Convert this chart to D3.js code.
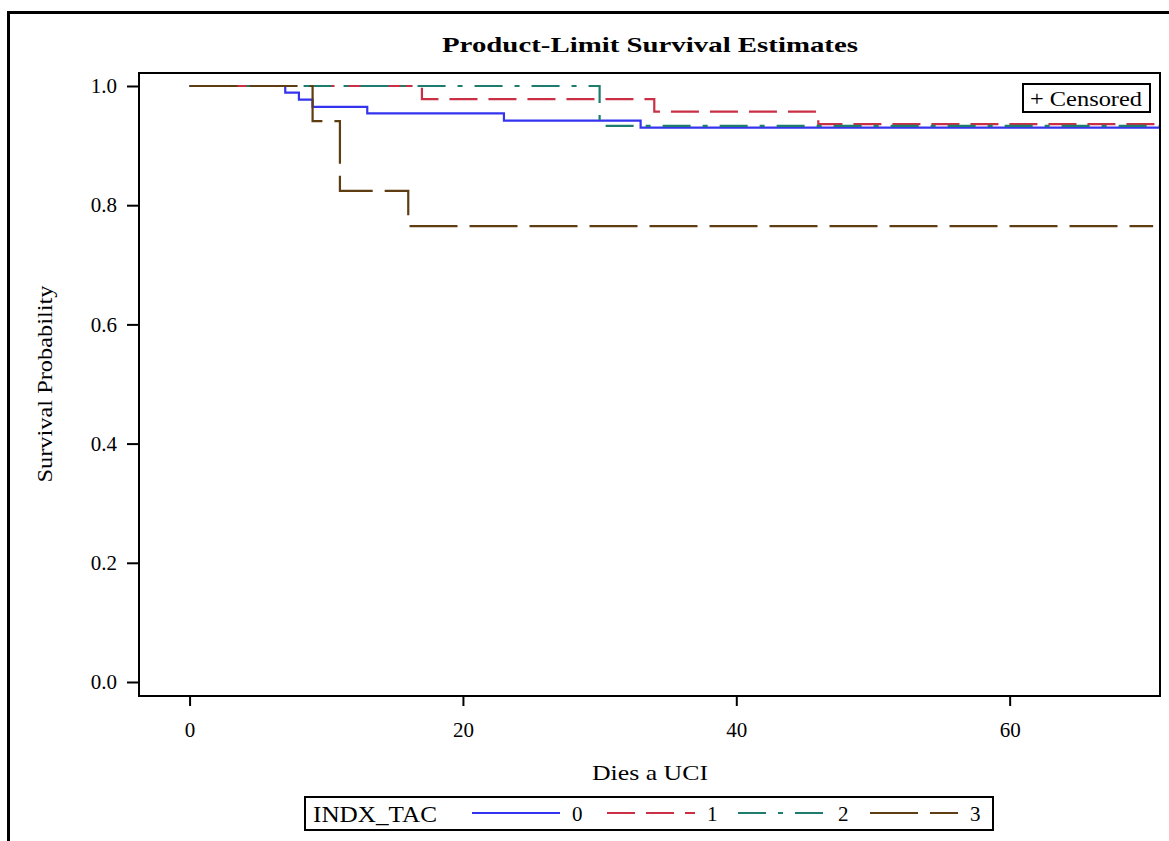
<!DOCTYPE html>
<html>
<head>
<meta charset="utf-8">
<script src="https://cdn.jsdelivr.net/npm/d3@7"></script>
<style>
  body { margin: 0; background: #fff; }
  svg { display: block; font-family: "Liberation Serif", "DejaVu Serif", serif; }
  .axis text { font-size: 21px; fill: #000; font-family: "Liberation Serif", serif; }
  .axis line { stroke: #000; stroke-width: 2; }
</style>
</head>
<body>
<svg id="chart"></svg>
<script>
// Data (time in days, survival probability)
const groups = ['0', '1', '2', '3'];
const times0 = [0, 7, 8, 9, 13, 23, 33, 71];
const surv0 = [1.0, 0.989, 0.977, 0.965, 0.954, 0.942, 0.930, 0.930];
const times1 = [0, 17, 34, 46, 71];
const surv1 = [1.0, 0.978, 0.957, 0.936, 0.936];
const times2 = [0, 30, 71];
const surv2 = [1.0, 0.933, 0.933];
const times3 = [0, 9, 11, 16, 70.5];
const surv3 = [1.0, 0.941, 0.824, 0.765, 0.765];
const xTicks = [0, 20, 40, 60];
const yTicks = [0, 0.2, 0.4, 0.6, 0.8, 1.0];

// styles per group
const colors = ['#3434f0', '#c92f45', '#1e7c6e', '#5e3d12'];
const dashes = [null, '28,11', '28,12,5,12', '48,12'];

const W = 1169, H = 841;
const svg = d3.select('#chart').attr('width', W).attr('height', H);

// scales - domain padded like the original frame
const xScale = d3.scaleLinear().domain([-3.7, 71.0]).range([139, 1160]);
const yScale = d3.scaleLinear().domain([-0.0235, 1.0218]).range([696, 73]);

// outer frame (top + left only visible)
svg.append('path')
  .attr('d', `M8.5,${H} L8.5,12.5 L${W},12.5`)
  .attr('fill', 'none').attr('stroke', '#000').attr('stroke-width', 3);

// title
svg.append('text')
  .attr('x', 650).attr('y', 52)
  .attr('text-anchor', 'middle')
  .attr('font-size', 22).attr('font-weight', 'bold')
  .attr('textLength', 416).attr('lengthAdjust', 'spacingAndGlyphs')
  .text('Product-Limit Survival Estimates');

// curves
const series = [
  { t: times0, s: surv0 },
  { t: times1, s: surv1 },
  { t: times2, s: surv2 },
  { t: times3, s: surv3 }
];

const line = d3.line()
  .x(d => xScale(d[0]))
  .y(d => yScale(d[1]))
  .curve(d3.curveStepAfter);

const plot = svg.append('g');
series.forEach((sr, i) => {
  const pts = sr.t.map((t, j) => [t, sr.s[j]]);
  plot.append('path')
    .attr('d', line(pts))
    .attr('fill', 'none')
    .attr('stroke', colors[i])
    .attr('stroke-width', 2.2)
    .attr('stroke-dasharray', dashes[i]);
});

// axes
const yAxis = d3.axisLeft(yScale).tickValues(yTicks).tickFormat(d3.format('.1f'))
  .tickSize(12).tickPadding(10);
const xAxis = d3.axisBottom(xScale).tickValues(xTicks).tickFormat(d3.format('d'))
  .tickSize(10).tickPadding(16);

svg.append('g').attr('class', 'axis')
  .attr('transform', 'translate(139,0)')
  .call(yAxis)
  .call(g => g.select('.domain').remove())
  .attr('font-family', null).attr('font-size', null);

svg.append('g').attr('class', 'axis')
  .attr('transform', 'translate(0,696)')
  .call(xAxis)
  .call(g => g.select('.domain').remove())
  .attr('font-family', null).attr('font-size', null);

// plot frame
svg.append('rect')
  .attr('x', xScale.range()[0]).attr('y', yScale.range()[1])
  .attr('width', xScale.range()[1] - xScale.range()[0])
  .attr('height', yScale.range()[0] - yScale.range()[1])
  .attr('fill', 'none').attr('stroke', '#000').attr('stroke-width', 2);

// axis labels
svg.append('text')
  .attr('transform', 'translate(52,384) rotate(-90)')
  .attr('text-anchor', 'middle')
  .attr('font-size', 22)
  .attr('textLength', 197).attr('lengthAdjust', 'spacingAndGlyphs')
  .text('Survival Probability');

svg.append('text')
  .attr('x', 650).attr('y', 780)
  .attr('text-anchor', 'middle')
  .attr('font-size', 22)
  .attr('textLength', 116).attr('lengthAdjust', 'spacingAndGlyphs')
  .text('Dies a UCI');

// censored inset legend
svg.append('rect')
  .attr('x', 1023).attr('y', 84).attr('width', 127).attr('height', 28)
  .attr('fill', '#fff').attr('stroke', '#000').attr('stroke-width', 2);
svg.append('text')
  .attr('x', 1030).attr('y', 106)
  .attr('font-size', 21)
  .attr('textLength', 112).attr('lengthAdjust', 'spacingAndGlyphs')
  .text('+ Censored');

// bottom legend
const legend = svg.append('g');
legend.append('rect')
  .attr('x', 305).attr('y', 797).attr('width', 688).attr('height', 33)
  .attr('fill', '#fff').attr('stroke', '#000').attr('stroke-width', 2);
legend.append('text')
  .attr('x', 313).attr('y', 822)
  .attr('font-size', 23)
  .attr('textLength', 124).attr('lengthAdjust', 'spacingAndGlyphs')
  .text('INDX_TAC');

const legX = [472, 607, 738, 870];
const legLen = 88;
groups.forEach((g, i) => {
  legend.append('line')
    .attr('x1', legX[i]).attr('x2', legX[i] + legLen)
    .attr('y1', 813).attr('y2', 813)
    .attr('stroke', colors[i]).attr('stroke-width', 2.2)
    .attr('stroke-dasharray', dashes[i]);
  legend.append('text')
    .attr('x', legX[i] + legLen + 12).attr('y', 821)
    .attr('font-size', 21)
    .text(g);
});
</script>
</body>
</html>
